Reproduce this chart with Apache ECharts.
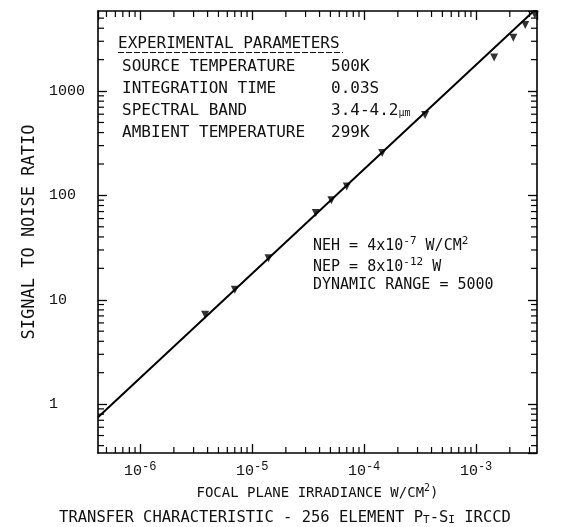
<!DOCTYPE html>
<html><head><meta charset="utf-8">
<script src="https://cdn.jsdelivr.net/npm/echarts@6/dist/echarts.min.js"></script>
<style>html,body{margin:0;padding:0;background:#fff}#c{width:570px;height:527px}</style>
</head><body><div id="c"></div>
<script>
// ---- data ----
const xRange = [4.2e-7, 3.5e-3];          // focal plane irradiance, W/cm^2
const yRange = [0.34, 5850];              // signal to noise ratio
const irradiance = [3.8e-6, 7.0e-6, 1.4e-5, 3.7e-5, 5.1e-5, 7.0e-5, 1.45e-4, 3.5e-4, 1.45e-3, 2.15e-3, 2.75e-3, 3.35e-3];
const snr        = [7.2,    12.5,   25,     68,     90,     122,    255,     590,    2100,    3240,    4300,    5400];
const fitIrradiance = [4.2e-7, 3.5e-3];
const fitSnr        = [0.75, 6250];
const minorMantissas = [2, 3, 4, 5, 6, 7, 8, 9];
const xDecadeExps = [-7, -6, -5, -4, -3];
const yDecadeExps = [-1, 0, 1, 2, 3];
const paramTitle = 'EXPERIMENTAL PARAMETERS';
const paramNames = ['SOURCE TEMPERATURE', 'INTEGRATION TIME', 'SPECTRAL BAND', 'AMBIENT TEMPERATURE'];
const paramValues = ['500K', '0.03S', '3.4-4.2{u|µm}', '299K'];
const noteLines = ['NEH = 4x10{s|-7} W/CM{s|2}', 'NEP = 8x10{s|-12} W', 'DYNAMIC RANGE = 5000'];

// ---- build ----
const xMinor = [], yMinor = [];
xDecadeExps.forEach(k => minorMantissas.forEach(m => {
  const v = m * Math.pow(10, k);
  if (v > xRange[0] && v < xRange[1]) xMinor.push([v, 1]);
}));
yDecadeExps.forEach(k => minorMantissas.forEach(m => {
  const v = m * Math.pow(10, k);
  if (v > yRange[0] && v < yRange[1]) yMinor.push([1e-5, v]);
}));
const isDecade = v => Math.abs(Math.log10(v) - Math.round(Math.log10(v))) < 1e-6;

const mono = 'DejaVu Sans Mono';
const digitFont = 'Liberation Mono';
const ink = '#111';
const chart = echarts.init(document.getElementById('c'), null, {renderer: 'canvas'});

const axisCommon = {
  type: 'log', logBase: 10,
  axisLine: {show: true, lineStyle: {color: '#000', width: 1.6}},
  axisTick: {show: true, inside: true, length: 9, lineStyle: {color: '#000', width: 1.3}},
  splitLine: {show: false}
};

const minorLen = 6;
function tickLine(x1, y1, x2, y2) {
  return {type: 'line', shape: {x1, y1, x2, y2}, style: {stroke: '#000', lineWidth: 1.2}};
}

const graphics = [];
graphics.push({type: 'text', left: 118, top: 36, style: {text: paramTitle, font: '16px "' + mono + '"', fill: ink}});
graphics.push({type: 'line', shape: {x1: 118, y1: 52.5, x2: 343, y2: 52.5}, style: {stroke: ink, lineWidth: 1, lineDash: [6, 2]}});
paramNames.forEach((n, i) => {
  graphics.push({type: 'text', left: 122, top: 59 + i * 22, style: {text: n, font: '16px "' + mono + '"', fill: ink}});
  graphics.push({type: 'text', left: 331, top: 59 + i * 22, style: {text: paramValues[i], font: '16px "' + mono + '"', fill: ink,
    rich: {u: {fontSize: 10, fontFamily: mono, fill: ink, padding: [4, 0, 0, 0]}}}});
});
noteLines.forEach((t, i) => {
  graphics.push({type: 'text', left: 313, top: 236 + i * 21, style: {text: t, font: '15px "' + mono + '"', fill: ink,
    rich: {s: {fontSize: 11, fontFamily: mono, fill: ink, padding: [0, 0, 9, 0]}}}});
});
graphics.push({type: 'text', left: 'center', top: 510, style: {
  text: 'TRANSFER CHARACTERISTIC - 256 ELEMENT P{m|T}-S{m|I} IRCCD', font: '15.5px "' + mono + '"', fill: ink,
  rich: {m: {fontSize: 11, fontFamily: mono, fill: ink, padding: [4, 0, 0, 0]}}}});

chart.setOption({
  animation: false,
  backgroundColor: '#fff',
  grid: {left: 98, right: 33, top: 11, bottom: 74},
  xAxis: [
    Object.assign({}, axisCommon, {
      position: 'bottom', min: xRange[0], max: xRange[1],
      name: 'FOCAL PLANE IRRADIANCE W/CM{s|2})', nameLocation: 'middle', nameGap: 27,
      nameTextStyle: {fontFamily: mono, fontSize: 14, color: ink, rich: {s: {fontSize: 10, fontFamily: mono, color: ink, padding: [0, 0, 8, 0]}}},
      axisLabel: {
        show: true, margin: 8, showMinLabel: false, showMaxLabel: false,
        fontFamily: digitFont, fontSize: 15, color: ink,
        rich: {s: {fontFamily: digitFont, fontSize: 12, color: ink, padding: [0, 0, 9, 0]}},
        formatter: v => isDecade(v) ? '10{s|' + Math.round(Math.log10(v)) + '}' : ''
      }
    }),
    Object.assign({}, axisCommon, {position: 'top', min: xRange[0], max: xRange[1], axisLabel: {show: false}})
  ],
  yAxis: [
    Object.assign({}, axisCommon, {
      position: 'left', min: yRange[0], max: yRange[1],
      name: 'SIGNAL TO NOISE RATIO', nameLocation: 'middle', nameGap: 54, nameRotate: 90,
      nameTextStyle: {fontFamily: mono, fontSize: 17, color: ink},
      axisLabel: {
        show: true, margin: 49, align: 'left', showMinLabel: false, showMaxLabel: false,
        fontFamily: digitFont, fontSize: 15, color: ink,
        formatter: v => isDecade(v) ? String(Math.round(v)) : ''
      }
    }),
    Object.assign({}, axisCommon, {position: 'right', min: yRange[0], max: yRange[1], axisLabel: {show: false}})
  ],
  series: [
    {
      type: 'line', xAxisIndex: 0, yAxisIndex: 0, data: fitIrradiance.map((x, i) => [x, fitSnr[i]]),
      showSymbol: false, symbol: 'none', clip: true,
      lineStyle: {color: '#000', width: 2}
    },
    {
      type: 'scatter', xAxisIndex: 0, yAxisIndex: 0, data: irradiance.map((x, i) => [x, snr[i]]),
      symbol: 'triangle', symbolRotate: 180, symbolSize: 8, itemStyle: {color: '#000'}
    },
    {
      type: 'custom', xAxisIndex: 0, yAxisIndex: 0, data: xMinor, clip: false, silent: true,
      renderItem: (params, api) => {
        const cs = params.coordSys;
        const px = api.coord([api.value(0), 1])[0];
        return {type: 'group', children: [
          tickLine(px, cs.y + cs.height, px, cs.y + cs.height - minorLen),
          tickLine(px, cs.y, px, cs.y + minorLen)
        ]};
      }
    },
    {
      type: 'custom', xAxisIndex: 0, yAxisIndex: 0, data: yMinor, clip: false, silent: true,
      renderItem: (params, api) => {
        const cs = params.coordSys;
        const py = api.coord([1e-5, api.value(1)])[1];
        return {type: 'group', children: [
          tickLine(cs.x, py, cs.x + minorLen, py),
          tickLine(cs.x + cs.width, py, cs.x + cs.width - minorLen, py)
        ]};
      }
    }
  ],
  graphic: graphics
});
</script>
</body></html>
